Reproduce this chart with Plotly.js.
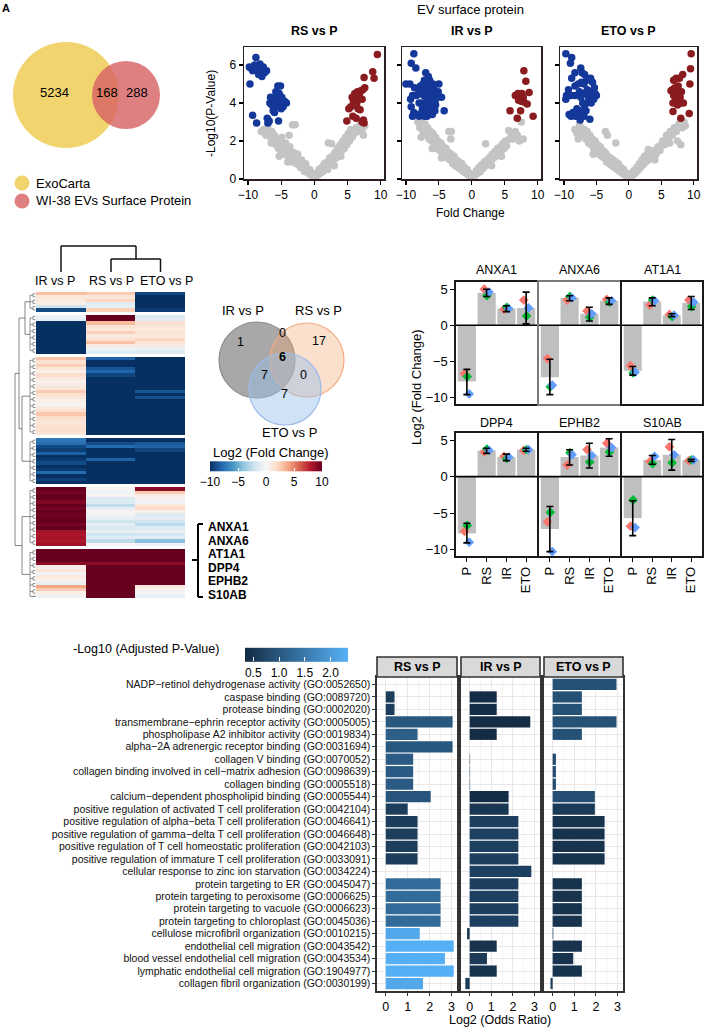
<!DOCTYPE html>
<html><head><meta charset="utf-8">
<script src="https://cdn.plot.ly/plotly-3.0.1.min.js"></script>
<style>html,body{margin:0;padding:0;background:#fff}#chart{width:707px;height:1030px}</style>
</head><body><div id="chart"></div>
<script>
// ---------------- DATA ----------------
// Panel A: Venn
const vennALabels = ['ExoCarta', 'WI-38 EVs Surface Protein'];
const vennACounts = [5234, 168, 288];

// Volcano plots (Fold Change, -Log10 P)
const rsNS = [[-8.0,2.5],[-7.8,2.55],[-7.6,2.6],[-7.3,2.3],[-7.0,2.8],[-6.9,2.4],[-6.6,2.2],[-6.4,2.5],[-6.5,1.9],[-6.2,2.0],[-6.0,2.3],[-5.8,1.8],[-5.6,2.1],[-5.4,1.6],[-5.3,1.2],[-5.2,2.0],[-5.0,1.4],[-4.9,2.2],[-4.7,1.7],[-4.5,1.3],[-4.3,1.9],[-4.1,1.5],[-4.0,0.9],[-3.9,1.1],[-3.8,2.3],[-3.7,1.7],[-3.5,1.3],[-3.3,2.85],[-2.9,2.85],[-3.3,0.9],[-3.1,1.4],[-2.9,1.1],[-2.7,0.8],[-2.5,1.3],[-2.3,0.9],[-2.1,0.6],[-1.9,1.0],[-1.7,0.7],[-1.5,0.4],[-1.3,0.8],[-1.1,0.5],[-0.9,0.3],[-0.7,0.5],[-0.5,0.2],[-0.3,0.3],[-0.1,0.1],[0.1,0.15],[0.3,0.3],[0.5,0.2],[0.7,0.5],[0.9,0.3],[1.1,0.6],[1.3,0.4],[1.5,0.8],[1.7,0.6],[1.9,0.9],[2.0,0.5],[2.1,1.9],[2.6,1.85],[2.1,0.7],[2.3,1.1],[2.5,0.8],[2.7,1.2],[2.9,1.0],[3.0,0.7],[3.1,1.4],[3.3,1.1],[3.5,1.6],[3.7,1.3],[3.9,1.8],[4.0,1.2],[4.1,1.5],[4.3,2.0],[4.5,1.6],[4.7,2.2],[4.9,1.8],[5.1,2.4],[5.3,2.0],[5.5,2.6],[5.7,2.2],[6.0,2.4],[6.3,2.7],[6.6,2.5],[6.9,2.9],[7.2,2.6],[7.4,2.3],[7.6,2.8]];
const rsDown = [[-9.8,5.9],[-9.6,5.85],[-9.3,5.7],[-9.0,6.0],[-8.8,6.4],[-8.6,5.7],[-8.4,5.5],[-8.2,6.05],[-8.0,5.8],[-7.9,5.4],[-7.7,5.9],[-7.5,5.6],[-7.2,5.7],[-9.7,5.0],[-9.3,3.35],[-8.7,2.95],[-7.1,3.2],[-7.0,2.95],[-6.8,3.05],[-6.6,4.3],[-6.4,3.9],[-6.2,3.6],[-6.1,4.2],[-5.9,3.8],[-5.8,4.6],[-5.6,4.1],[-5.5,4.9],[-5.3,4.5],[-5.2,4.0],[-5.1,4.9],[-4.9,4.3],[-4.7,3.8],[-4.5,4.1],[-4.2,4.0],[-6.7,4.0],[-6.0,3.5],[-5.4,3.05],[-5.7,4.4],[-5.0,3.7],[-6.3,4.25]];
const rsUp = [[9.5,6.55],[8.8,5.65],[9.0,5.3],[7.5,5.35],[7.6,4.8],[7.3,4.7],[7.0,4.65],[6.8,4.5],[6.5,4.6],[6.3,4.3],[6.1,4.5],[5.9,4.1],[5.7,4.3],[5.5,3.8],[5.2,3.7],[5.9,3.9],[6.4,4.0],[6.6,3.7],[6.9,3.65],[5.8,3.3],[6.3,3.2],[7.2,3.0],[7.5,2.95],[4.9,3.05],[7.2,4.2],[6.7,4.4],[7.4,3.1]];

const irNS = [[-8.2,3.0],[-7.9,2.7],[-7.7,2.2],[-7.6,3.1],[-7.4,2.5],[-7.1,2.9],[-6.9,2.3],[-6.7,2.7],[-6.5,2.1],[-6.3,2.5],[-6.1,2.0],[-6.0,1.6],[-5.9,2.4],[-5.7,1.8],[-5.5,2.2],[-5.3,1.6],[-5.1,2.0],[-4.9,1.5],[-4.7,1.9],[-4.6,1.1],[-4.5,1.4],[-4.3,1.7],[-4.1,1.2],[-3.9,1.6],[-3.7,1.1],[-3.5,2.5],[-3.1,2.5],[-3.2,2.1],[-3.5,1.4],[-3.3,1.0],[-3.1,1.3],[-2.9,0.8],[-2.7,1.2],[-2.5,0.7],[-2.3,1.0],[-2.1,0.6],[-1.9,0.9],[-1.7,0.5],[-1.5,0.8],[-1.3,0.4],[-1.1,0.6],[-0.9,0.3],[-0.7,0.5],[-0.5,0.2],[-0.3,0.3],[-0.1,0.1],[0.1,0.15],[0.3,0.25],[0.5,0.2],[0.7,0.45],[0.9,0.3],[1.1,0.6],[1.3,0.4],[1.5,0.75],[1.7,0.55],[1.9,0.9],[2.1,1.85],[2.1,0.7],[2.3,1.0],[2.5,0.8],[2.7,1.15],[2.9,0.95],[3.0,0.7],[3.1,1.3],[3.3,1.1],[3.5,1.45],[3.7,1.2],[3.9,1.6],[4.1,1.35],[4.3,1.7],[4.5,1.5],[4.5,1.2],[4.7,1.85],[4.9,1.6],[5.1,2.0],[5.3,1.75],[5.6,2.55],[5.7,2.1],[6.0,2.3],[6.3,2.1],[6.6,2.5],[6.9,2.3],[7.2,2.0],[7.5,3.0],[7.8,2.1]];
const irDown = [[-8.8,6.6],[-9.2,6.1],[-8.5,5.85],[-10.0,5.0],[-9.4,5.0],[-9.0,4.4],[-9.3,4.2],[-9.2,3.8],[-8.8,3.5],[-9.0,3.3],[-8.5,3.4],[-8.0,3.3],[-7.6,3.5],[-7.2,3.3],[-6.8,3.3],[-6.5,3.4],[-6.0,3.4],[-5.6,3.6],[-4.2,3.6],[-4.6,4.3],[-5.0,5.0],[-5.4,4.6],[-5.8,4.8],[-6.2,5.0],[-6.6,5.4],[-7.0,5.6],[-7.2,5.2],[-6.8,4.9],[-6.4,4.6],[-6.0,4.3],[-6.3,4.1],[-6.8,4.2],[-7.3,4.4],[-7.7,4.6],[-8.1,4.5],[-8.4,4.4],[-8.0,4.0],[-7.6,4.0],[-7.2,3.9],[-6.6,3.8],[-6.1,3.9],[-5.6,4.1],[-5.2,4.3],[-7.8,4.9],[-7.0,4.7],[-6.4,5.2],[-5.9,5.0],[-5.5,3.9],[-8.7,4.8],[-7.5,3.7],[-6.9,3.6],[-5.9,3.6],[-7.4,5.0],[-6.5,4.3],[-5.1,4.6]];
const irUp = [[7.9,5.7],[8.2,5.15],[8.7,4.55],[9.3,3.3],[6.6,4.4],[7.0,4.5],[7.3,4.4],[7.6,4.5],[7.8,4.3],[7.1,4.15],[7.5,4.1],[7.9,4.05],[5.8,3.6],[7.4,3.6],[6.9,3.2],[8.4,3.95]];

const etoNS = [[-8.3,2.6],[-8.0,2.4],[-7.8,2.1],[-7.6,2.9],[-7.4,2.7],[-7.1,2.3],[-6.9,2.6],[-6.6,2.1],[-6.4,2.5],[-6.2,1.9],[-6.0,2.3],[-5.8,1.8],[-5.6,2.1],[-5.5,1.3],[-5.4,1.6],[-5.2,2.0],[-5.0,1.5],[-4.8,1.8],[-4.6,1.3],[-4.4,1.7],[-4.2,1.2],[-4.0,1.5],[-3.8,1.1],[-3.6,2.5],[-3.3,2.3],[-3.6,1.4],[-3.4,0.9],[-3.2,1.2],[-3.0,0.8],[-2.8,1.1],[-2.6,0.7],[-2.4,1.0],[-2.2,0.6],[-2.0,1.9],[-2.0,0.9],[-1.8,0.5],[-1.6,0.8],[-1.4,0.4],[-1.2,0.6],[-1.0,0.3],[-0.8,0.5],[-0.6,0.2],[-0.4,0.3],[-0.2,0.1],[0.0,0.1],[0.2,0.2],[0.4,0.3],[0.6,0.2],[0.8,0.45],[1.0,0.3],[1.2,0.6],[1.4,0.45],[1.6,0.8],[1.8,0.6],[2.0,1.0],[2.2,0.75],[2.4,1.2],[2.6,0.9],[2.8,1.3],[3.0,1.55],[3.0,1.0],[3.3,1.3],[3.6,1.1],[3.9,1.5],[4.0,1.0],[4.2,1.3],[4.5,1.7],[4.8,1.5],[5.0,1.8],[5.2,2.0],[5.5,1.8],[5.8,2.3],[6.1,2.1],[6.3,1.9],[6.4,2.5],[6.7,2.3],[7.0,2.7],[7.3,2.5],[7.5,2.0],[7.7,2.9],[8.0,1.8],[8.2,2.7],[8.5,3.0],[8.7,2.8]];
const etoDown = [[-9.7,6.6],[-8.8,6.4],[-9.0,6.1],[-8.3,5.6],[-7.4,5.85],[-7.2,5.6],[-6.8,5.5],[-6.5,5.2],[-5.9,5.3],[-5.6,5.1],[-5.3,4.8],[-5.2,4.5],[-5.0,4.4],[-5.4,4.2],[-6.0,4.4],[-6.4,4.7],[-6.9,5.0],[-7.3,5.1],[-7.8,5.0],[-8.3,4.9],[-8.8,5.3],[-9.3,4.7],[-9.6,4.4],[-9.7,4.2],[-8.9,4.4],[-8.3,4.4],[-7.6,4.6],[-7.0,4.5],[-6.5,4.0],[-6.2,4.3],[-5.8,4.0],[-6.8,3.9],[-7.3,3.6],[-7.8,3.4],[-8.6,3.5],[-8.9,3.3],[-8.2,3.3],[-7.5,3.1],[-6.9,3.3],[-6.0,3.15],[-7.1,4.0],[-6.6,3.6],[-9.2,3.4],[-8.0,3.7],[-7.4,4.3],[-5.6,4.6]];
const etoUp = [[9.6,6.6],[9.5,5.8],[9.4,5.0],[9.3,3.45],[8.3,5.5],[7.8,5.3],[7.3,5.3],[6.9,5.2],[7.6,4.9],[7.1,4.8],[6.7,4.7],[6.5,4.65],[7.4,4.55],[6.9,4.4],[7.7,4.35],[8.1,4.6],[7.2,4.1],[6.8,4.0],[8.0,4.0],[8.4,4.0],[7.5,3.9],[6.8,3.55],[8.0,3.2],[7.9,4.3]];

const volcanoTitles = ['RS vs P', 'IR vs P', 'ETO vs P'];

// Heatmap (log2 fold change), null = gap between clusters
const hmCols = ['IR vs P', 'RS vs P', 'ETO vs P'];
const hmIR = [3.0,1.2,1.0,0.6,-2.0,-9.0, null,
  -0.6,-1.0,-10,-10,-10,-10,-10,-10,-10,-10,-10,-10, null,
  2.8,1.6,2.4,1.2,0.6,1.8,1.0,0.4,0.8,1.2,2.6,1.6,1.2,0.6,0.3,1.0,1.6,2.8,1.8,1.4,1.2,1.6,1.8,1.4, null,
  -7.2,-7.6,-9.0,-9.4,-8.2,-10,-9.6,-9.0,-10,-9.6,-7.8,-10,-9.4,-10, null,
  10,9.6,10,10,9.4,10,9.6,10,9.8,10,10,9.6,10,8.4,8.2,8.4,8.2,8.6, null,
  10,10,10,10,9.0,0.8,1.2,-0.3,1.0,0.5,-0.8,4.0,2.6,0.6,-0.4];
const hmRS = [2.6,1.2,2.2,-1.2,-0.8,2.4, null,
  10,10,3.2,1.5,1.2,2.4,1.0,1.6,3.0,1.0,-0.6,-1.2, null,
  -8.2,-10,-10,-8.6,-8.0,-9.2,-10,-10,-10,-10,-10,-10,-10,-10,-10,-10,-10,-10,-10,-10,-10,-10,-10,-10, null,
  -10,-9,-7.8,-10,-10,-10,-8.2,-10,-10,-10,-10,-10,-10,-10, null,
  0.2,-0.4,0.3,-1.6,-1.4,-2.6,-1.0,0.3,-0.4,-1.0,-2.0,-1.0,-1.6,-0.8,-2.0,-1.2,-2.6,0.1, null,
  10,10,10,10,9.0,10,10,10,10,10,10,10,10,10,10];
const hmETO = [-9.2,-10,-10,-10,-10,-9.6, null,
  -1.6,-1.2,1.6,1.2,1.0,1.4,1.2,2.2,1.4,1.0,-0.8,-1.4, null,
  -10,-10,-10,-10,-10,-10,-10,-10,-10,-10,-8.6,-10,-8.8,-10,-10,-10,-10,-10,-10,-10,-10,-10,-10,-10, null,
  -10,-8.4,-8.2,-9.2,-10,-10,-10,-10,-10,-10,-10,-10,-10,-10, null,
  9.0,2.6,0.8,0.4,-0.3,1.2,2.0,0.5,-1.4,-1.0,-2.0,-2.6,-1.4,-0.8,-1.8,-1.2,-4.2,-0.4, null,
  10,10,10,10,9.0,10,10,10,10,10,10,1.2,0.5,-0.3,-1.0];

// 3-way Venn
const venn3Sets = ['IR vs P', 'RS vs P', 'ETO vs P'];
const venn3Counts = {irOnly:1, irRs:0, rsOnly:17, all:6, irEto:7, rsEto:0, etoOnly:7};

// Bar facets: Log2 fold change per gene
const genes = ['ANXA1','ANXA6','AT1A1','DPP4','EPHB2','S10AB'];
const groups = ['P','RS','IR','ETO'];
const barMean = [[-7.8,4.5,2.3,2.4],[-7.2,3.8,1.6,3.4],[-6.3,3.3,1.4,3.1],[-7.8,3.6,2.7,3.7],[-7.2,2.7,2.9,4.0],[-5.7,2.3,3.0,2.3]];
const errHigh = [[-6.1,5.0,2.7,4.6],[-4.7,4.1,2.5,3.8],[-5.7,3.8,1.6,4.0],[-6.4,3.9,3.1,3.9],[-4.1,3.7,4.6,5.2],[-3.3,2.9,5.1,2.4]];
const errLow  = [[-9.6,4.0,1.9,0.2],[-9.6,3.4,0.6,2.9],[-6.9,2.7,1.2,2.2],[-9.1,3.2,2.2,3.5],[-10.3,1.6,1.2,2.8],[-8.1,1.7,0.9,2.1]];
const rep1 = [[-6.7,5.0,2.2,3.5],[-4.6,3.5,2.0,3.6],[-5.6,2.8,1.5,3.5],[-7.5,3.4,2.8,3.6],[-6.2,1.6,3.7,4.6],[-6.8,2.1,4.1,2.2]];
const rep2 = [[-7.1,4.1,2.5,1.3],[-8.5,4.0,1.1,3.2],[-6.6,3.5,1.2,2.6],[-6.7,3.8,2.5,3.7],[-4.9,3.3,2.0,3.4],[-3.2,1.8,1.9,2.3]];
const rep3 = [[-9.5,4.6,2.3,2.4],[-8.3,3.8,1.6,3.4],[-6.5,3.4,1.4,3.2],[-9.0,3.6,2.7,3.7],[-10.3,3.0,2.9,4.0],[-7.0,2.8,3.0,2.3]];

// GO enrichment
const goTerms = [
 'NADP\u2212retinol dehydrogenase activity (GO:0052650)',
 'caspase binding (GO:0089720)',
 'protease binding (GO:0002020)',
 'transmembrane\u2212ephrin receptor activity (GO:0005005)',
 'phospholipase A2 inhibitor activity (GO:0019834)',
 'alpha\u22122A adrenergic receptor binding (GO:0031694)',
 'collagen V binding (GO:0070052)',
 'collagen binding involved in cell\u2212matrix adhesion (GO:0098639)',
 'collagen binding (GO:0005518)',
 'calcium\u2212dependent phospholipid binding (GO:0005544)',
 'positive regulation of activated T cell proliferation (GO:0042104)',
 'positive regulation of alpha\u2212beta T cell proliferation (GO:0046641)',
 'positive regulation of gamma\u2212delta T cell proliferation (GO:0046648)',
 'positive regulation of T cell homeostatic proliferation (GO:0042103)',
 'positive regulation of immature T cell proliferation (GO:0033091)',
 'cellular response to zinc ion starvation (GO:0034224)',
 'protein targeting to ER (GO:0045047)',
 'protein targeting to peroxisome (GO:0006625)',
 'protein targeting to vacuole (GO:0006623)',
 'protein targeting to chloroplast (GO:0045036)',
 'cellulose microfibril organization (GO:0010215)',
 'endothelial cell migration (GO:0043542)',
 'blood vessel endothelial cell migration (GO:0043534)',
 'lymphatic endothelial cell migration (GO:1904977)',
 'collagen fibril organization (GO:0030199)'];
const goFacets = ['RS vs P','IR vs P','ETO vs P'];
const rsOR  = [null,0.4,0.4,3.05,1.45,3.05,1.25,1.25,1.25,2.05,1.0,1.45,1.45,1.45,1.45,null,2.5,2.5,2.5,2.5,1.55,3.1,2.7,3.1,1.7];
const rsP   = [null,0.6,0.6,1.0,1.1,1.0,1.05,1.05,1.05,0.95,0.6,0.6,0.6,0.6,0.6,null,1.3,1.3,1.3,1.3,2.2,2.3,2.3,2.3,2.2];
const irOR  = [null,1.25,1.25,2.8,1.25,null,0.02,0.02,0.02,1.8,1.8,2.25,2.25,2.25,2.25,2.85,2.25,2.25,2.25,2.25,-0.12,1.25,0.8,1.25,-0.2];
const irP   = [null,0.35,0.35,0.35,0.35,null,0.6,0.6,0.6,0.35,0.5,0.65,0.65,0.65,0.65,0.65,0.65,0.65,0.65,0.65,0.5,0.45,0.55,0.45,0.55];
const etoOR = [2.95,1.35,1.35,2.95,1.35,null,0.15,0.15,0.15,1.95,1.95,2.4,2.4,2.4,2.4,null,1.35,1.35,1.35,1.35,0.03,1.35,0.95,1.35,-0.1];
const etoP  = [0.9,0.9,0.9,0.9,0.9,null,0.8,0.8,0.8,0.85,0.55,0.45,0.45,0.45,0.45,null,0.45,0.45,0.45,0.45,0.6,0.45,0.45,0.45,0.6];

// ---------------- LAYOUT HELPERS ----------------
const W = 707, H = 1030;
const FONT = 'Liberation Sans, Arial, sans-serif';
const X = p => p / W, Y = p => 1 - p / H;
const dx = (a, b) => [a / W, b / W];
const dy = (t, b) => [1 - b / H, 1 - t / H];
const annotations = [], shapes = [], traces = [];
function ann(text, x, y, o = {}) {
  annotations.push(Object.assign({text, x: X(x), y: Y(y), xref: 'paper', yref: 'paper', showarrow: false,
    xanchor: 'center', yanchor: 'middle', font: {family: FONT, size: o.size || 12, color: o.color || '#000'}}, o.extra || {}));
}
function circ(cx, cy, r, fill, lc, lw) {
  shapes.push({type: 'circle', xref: 'paper', yref: 'paper', x0: X(cx - r), x1: X(cx + r), y0: Y(cy + r), y1: Y(cy - r),
    fillcolor: fill, line: {color: lc, width: lw}, layer: 'above'});
}
function seg(x0, y0, x1, y1, c, w) {
  shapes.push({type: 'line', xref: 'paper', yref: 'paper', x0: X(x0), y0: Y(y0), x1: X(x1), y1: Y(y1), line: {color: c, width: w}});
}
const layout = {width: W, height: H, margin: {l: 0, r: 0, t: 0, b: 0}, paper_bgcolor: '#fff', plot_bgcolor: 'rgba(0,0,0,0)',
  showlegend: false, font: {family: FONT, color: '#000'}, annotations, shapes};

ann('<b>A</b>', 6, 8, {size: 11});

// ---------------- Panel A: Venn ----------------
circ(66, 95, 53, '#f2d46e', 'rgba(0,0,0,0)', 0);
circ(126, 95, 34, 'rgba(214,96,99,0.8)', 'rgba(0,0,0,0)', 0);
ann(String(vennACounts[0]), 55, 93, {size: 13});
ann(String(vennACounts[1]), 107, 93, {size: 13});
ann(String(vennACounts[2]), 137, 93, {size: 13});
circ(22, 183, 7.5, '#f2d46e', 'rgba(0,0,0,0)', 0);
circ(22, 201, 7.5, 'rgba(214,96,99,0.8)', 'rgba(0,0,0,0)', 0);
ann(vennALabels[0], 34, 183, {size: 13, extra: {xanchor: 'left'}});
ann(vennALabels[1], 34, 201, {size: 13, extra: {xanchor: 'left'}});

// ---------------- Volcano ----------------
const volData = [[rsNS, rsDown, rsUp], [irNS, irDown, irUp], [etoNS, etoDown, etoUp]];
const volX = [[244, 384], [402, 541], [560, 697]];
const volCols = ['#c4c4c4', '#14389a', '#8a1b1e'];
volData.forEach((sets, i) => {
  const sx = i === 0 ? '' : String(i + 1);
  sets.forEach((pts, j) => {
    traces.push({type: 'scatter', mode: 'markers', x: pts.map(p => p[0]), y: pts.map(p => p[1]),
      xaxis: 'x' + sx, yaxis: 'y' + sx, marker: {size: 7.5, color: volCols[j], line: {width: 0}}, hoverinfo: 'skip'});
  });
  layout['xaxis' + sx] = {domain: dx(volX[i][0], volX[i][1]), anchor: 'y' + sx, range: [-10.6, 10.5], tickvals: [-10, -5, 0, 5, 10],
    ticks: 'outside', ticklen: 4, tickwidth: 1.2, tickcolor: '#000', showline: true, mirror: true, linecolor: '#2a1f1f', linewidth: 1.5,
    showgrid: false, zeroline: false, tickfont: {size: 12, family: FONT}};
  layout['yaxis' + sx] = {domain: dy(47, 179), anchor: 'x' + sx, range: [0, 6.95], tickvals: [0, 2, 4, 6], showticklabels: i === 0,
    ticks: 'outside', ticklen: 4, tickwidth: 1.2, tickcolor: '#000', showline: true, mirror: true, linecolor: '#2a1f1f', linewidth: 1.5,
    showgrid: false, zeroline: false, tickfont: {size: 12, family: FONT}};
  ann('<b>' + volcanoTitles[i] + '</b>', (volX[i][0] + volX[i][1]) / 2, 31, {size: 12.5});
});
ann('EV surface protein', 470, 10, {size: 13});
ann('Fold Change', 470, 213, {size: 12});
ann('-Log10(P-Value)', 211, 113, {size: 12, extra: {textangle: -90}});

// ---------------- Heatmap ----------------
const NR = hmIR.length;
const hmZ = hmIR.map((v, i) => [v, hmRS[i], hmETO[i]]);
const rdbu = [[0, '#053061'], [0.1, '#2166ac'], [0.2, '#4393c3'], [0.3, '#92c5de'], [0.4, '#d1e5f0'], [0.5, '#f7f7f7'],
  [0.6, '#fddbc7'], [0.7, '#f4a582'], [0.8, '#d6604d'], [0.9, '#b2182b'], [1, '#67001f']];
traces.push({type: 'heatmap', z: hmZ, x: [0, 1, 2], y: hmZ.map((_, i) => i), xaxis: 'x4', yaxis: 'y4', zmin: -10, zmax: 10,
  colorscale: rdbu, hoverinfo: 'skip', xgap: 0, ygap: 0,
  colorbar: {orientation: 'h', x: X(266), xanchor: 'center', y: Y(477), yanchor: 'middle', len: 112, lenmode: 'pixels', thickness: 10,
    tickvals: [-10, -5, 0, 5, 10], ticks: 'inside', tickcolor: '#fff', ticklen: 3, outlinewidth: 0, xpad: 0, ypad: 0,
    tickfont: {size: 12, family: FONT}}});
layout.xaxis4 = {domain: dx(36, 185), anchor: 'y4', range: [-0.5, 2.5], visible: false};
layout.yaxis4 = {domain: dy(292, 598), anchor: 'x4', range: [NR - 0.5, -0.5], visible: false};
const colCx = [61, 111, 160.5];
const colLabX = [55, 111, 166];
hmCols.forEach((c, i) => ann(c, colLabX[i], 281, {size: 12.5}));
ann('Log2 (Fold Change)', 211, 452, {size: 13, extra: {xanchor: 'left'}});
// column dendrogram
seg(colCx[0], 272, colCx[0], 246, '#111', 1.5);
seg(colCx[0], 246, 136, 246, '#111', 1.5);
seg(136, 246, 136, 259, '#111', 1.5);
seg(colCx[1], 259, colCx[2], 259, '#111', 1.5);
seg(colCx[1], 259, colCx[1], 272, '#111', 1.5);
seg(colCx[2], 259, colCx[2], 272, '#111', 1.5);
// row dendrogram
const rowH = (598 - 292) / NR;
const rowY = i => 292 + (i + 0.5) * rowH;
const blocks = []; let st = null;
for (let i = 0; i < NR; i++) { if (hmIR[i] !== null) { if (st === null) st = i; } else if (st !== null) { blocks.push([st, i - 1]); st = null; } }
if (st !== null) blocks.push([st, NR - 1]);
const dC = '#666';
const bc = blocks.map(([a, b]) => {
  const mids = [];
  for (let i = a; i <= b; i += 2) {
    const j = Math.min(i + 1, b);
    seg(33, rowY(i), 35.5, rowY(i), dC, 0.7); seg(33, rowY(j), 35.5, rowY(j), dC, 0.7); seg(33, rowY(i), 33, rowY(j), dC, 0.7);
    mids.push((rowY(i) + rowY(j)) / 2);
  }
  mids.forEach(m => seg(30, m, 33, m, dC, 0.7));
  seg(30, mids[0], 30, mids[mids.length - 1], dC, 0.7);
  return (mids[0] + mids[mids.length - 1]) / 2;
});
function join(xj, y1, x1, y2, x2) { seg(xj, y1, x1, y1, dC, 0.8); seg(xj, y2, x2, y2, dC, 0.8); seg(xj, y1, xj, y2, dC, 0.8); return (y1 + y2) / 2; }
const n12 = join(25, bc[0], 30, bc[1], 30);
const n34 = join(22, bc[2], 30, bc[3], 30);
const n1234 = join(19, n12, 25, n34, 22);
const n56 = join(22, bc[4], 30, bc[5], 30);
join(15, n1234, 19, n56, 22);
// gene labels + bracket
const geneY = [527, 540.5, 554, 567.5, 581, 594.5];
genes.forEach((g, i) => ann('<b>' + g + '</b>', 206, geneY[i], {size: 12, extra: {xanchor: 'left'}}));
seg(198, 524, 198, 597, '#000', 2); seg(198, 524, 203, 524, '#000', 2); seg(198, 597, 203, 597, '#000', 2); seg(192, 560, 198, 560, '#000', 2);

// ---------------- 3-way Venn ----------------
circ(257, 360, 38, 'rgba(110,110,110,0.6)', '#8c8c8c', 1.2);
circ(307, 360, 37, 'rgba(245,165,115,0.35)', '#f3aa80', 1.2);
circ(285, 389, 36, 'rgba(150,190,232,0.45)', '#9dbbe8', 1.2);
ann(venn3Sets[0], 243, 310, {size: 13});
ann(venn3Sets[1], 318, 310, {size: 13});
ann(venn3Sets[2], 289, 433, {size: 13});
ann(String(venn3Counts.irOnly), 240, 342, {size: 12.5});
ann(String(venn3Counts.irRs), 282, 333, {size: 12.5});
ann(String(venn3Counts.rsOnly), 319, 341, {size: 12.5});
ann('<b>' + venn3Counts.all + '</b>', 282, 357, {size: 12.5});
ann(String(venn3Counts.irEto), 264, 375, {size: 12.5});
ann(String(venn3Counts.rsEto), 303, 375, {size: 12.5});
ann(String(venn3Counts.etoOnly), 284, 394, {size: 12.5});

// ---------------- Bar facets ----------------
const colDom = [[456, 537], [539, 620], [622, 702]];
const rowDom = [[282, 404], [433, 556]];
const titleY = [270, 423];
const repCols = ['#F8766D', '#00BA38', '#619CFF'];
const repOff = [-0.12, 0.02, 0.12];
genes.forEach((g, k) => {
  const n = 5 + k, col = k % 3, row = Math.floor(k / 3);
  const xa = 'x' + n, ya = 'y' + n;
  const xs = groups.map((_, i) => i);
  const frame = k === 1 ? '#7a7a7a' : '#1a1a1a';
  traces.push({type: 'bar', x: xs, y: barMean[k], xaxis: xa, yaxis: ya, width: 0.92, marker: {color: '#bfbfbf', line: {width: 0}}, hoverinfo: 'skip'});
  [rep1, rep2, rep3].forEach((rep, r) => {
    traces.push({type: 'scatter', mode: 'markers', x: xs.map(v => v + repOff[r]), y: rep[k], xaxis: xa, yaxis: ya,
      marker: {symbol: 'diamond', size: 7.5, color: repCols[r]}, hoverinfo: 'skip'});
  });
  traces.push({type: 'scatter', mode: 'markers', x: xs, y: barMean[k], xaxis: xa, yaxis: ya, marker: {size: 1, color: 'rgba(0,0,0,0)'},
    error_y: {type: 'data', symmetric: false, array: barMean[k].map((m, i) => errHigh[k][i] - m),
      arrayminus: barMean[k].map((m, i) => m - errLow[k][i]), color: '#000', thickness: 1.6, width: 3.5}, hoverinfo: 'skip'});
  layout['xaxis' + n] = {domain: dx(colDom[col][0], colDom[col][1]), anchor: ya, range: [-0.55, 3.55], tickvals: xs, ticktext: groups,
    tickangle: -90, showticklabels: row === 1, ticks: row === 1 ? 'outside' : '', ticklen: 4, tickcolor: '#000',
    showline: true, mirror: true, linecolor: frame, linewidth: 1.6, showgrid: false, zeroline: false, tickfont: {size: 13, family: FONT}};
  layout['yaxis' + n] = {domain: dy(rowDom[row][0], rowDom[row][1]), anchor: xa, range: [-10.9, 6.0], tickvals: [-10, -5, 0, 5],
    showticklabels: col === 0, ticks: col === 0 ? 'outside' : '', ticklen: 4, tickcolor: '#000',
    showline: true, mirror: true, linecolor: frame, linewidth: 1.6, showgrid: false, zeroline: false, tickfont: {size: 13, family: FONT}};
  shapes.push({type: 'line', xref: xa + ' domain', yref: ya, x0: 0, x1: 1, y0: 0, y1: 0, line: {color: '#000', width: 1.6}});
  ann(g, (colDom[col][0] + colDom[col][1]) / 2, titleY[row], {size: 12.5});
});
ann('Log2 (Fold Change)', 417, 387, {size: 13, extra: {textangle: -90}});

// ---------------- GO facets ----------------
const goX = [[377, 457], [461, 540], [544, 623]];
const goOR = [rsOR, irOR, etoOR], goP = [rsP, irP, etoP];
goFacets.forEach((f, i) => {
  const n = 11 + i, xa = 'x' + n, ya = 'y' + n;
  traces.push({type: 'bar', orientation: 'h', x: goOR[i], y: goTerms, xaxis: xa, yaxis: ya, width: 0.9, hoverinfo: 'skip',
    marker: {color: goP[i], colorscale: [[0, '#132B43'], [1, '#56B1F7']], cmin: 0.33, cmax: 2.33, showscale: i === 0, line: {width: 0},
      colorbar: {orientation: 'h', x: X(296), xanchor: 'center', y: Y(666), yanchor: 'middle', len: 103, lenmode: 'pixels', thickness: 14,
        tickvals: [0.5, 1, 1.5, 2], ticktext: ['0.5', '1.0', '1.5', '2.0'], ticks: 'inside', tickcolor: '#fff', ticklen: 4,
        outlinewidth: 0, xpad: 0, ypad: 0, tickfont: {size: 12, family: FONT}}}});
  layout['xaxis' + n] = {domain: dx(goX[i][0], goX[i][1]), anchor: ya, range: [-0.4, 3.25], tickvals: [0, 1, 2, 3], ticks: 'outside',
    ticklen: 3, tickcolor: '#333', showgrid: true, gridcolor: '#e8e8e8', gridwidth: 1,
    minor: {dtick: 0.5, tick0: 0, showgrid: true, gridcolor: '#f1f1f1', gridwidth: 0.8, ticks: ''},
    showline: true, mirror: true, linecolor: '#333', linewidth: 1.6, zeroline: false, tickfont: {size: 12.5, family: FONT}};
  layout['yaxis' + n] = {domain: dy(677, 991), anchor: xa, type: 'category', categoryorder: 'array', categoryarray: goTerms,
    tickmode: 'array', tickvals: goTerms, ticktext: goTerms,
    range: [24.6, -0.6], showgrid: true, gridcolor: '#e8e8e8', gridwidth: 1, showticklabels: i === 0, ticks: i === 0 ? 'outside' : '',
    ticklen: 3, tickcolor: '#333', showline: true, mirror: true, linecolor: '#333', linewidth: 1.6, zeroline: false,
    tickfont: {size: 10.5, family: FONT, color: '#111'}};
  shapes.push({type: 'rect', xref: 'paper', yref: 'paper', x0: X(goX[i][0]), x1: X(goX[i][1]), y0: Y(677), y1: Y(657),
    fillcolor: '#d9d9d9', line: {color: '#333', width: 1.6}});
  ann('<b>' + f + '</b>', (goX[i][0] + goX[i][1]) / 2, 667, {size: 12.5});
});
ann('-Log10 (Adjusted P-Value)', 146, 649, {size: 12.5});
ann('Log2 (Odds Ratio)', 500, 1020, {size: 12.5});

Plotly.newPlot('chart', traces, layout, {staticPlot: true});
</script></body></html>
